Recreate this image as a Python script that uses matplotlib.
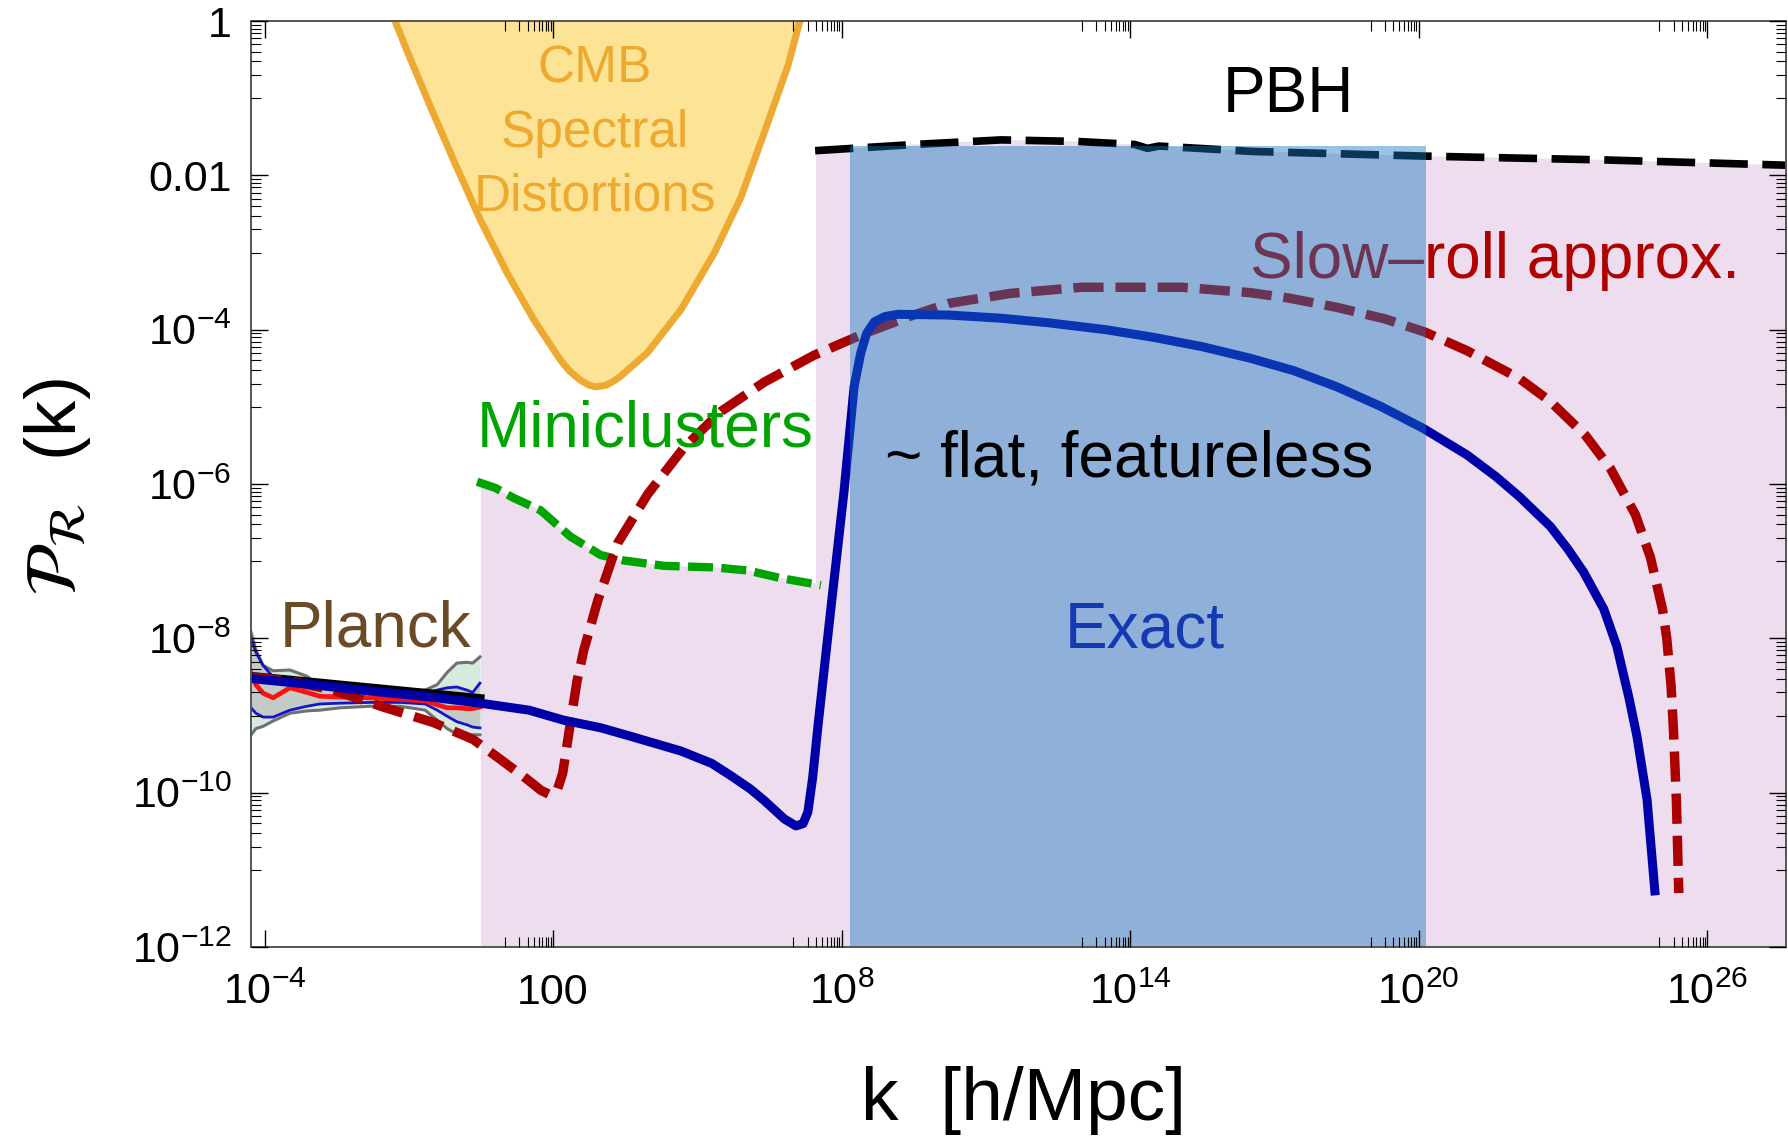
import numpy as np
import matplotlib
matplotlib.use('Agg')
import matplotlib.pyplot as plt
from matplotlib.ticker import FixedLocator, NullFormatter

plt.rcParams['font.family'] = ['Liberation Sans', 'DejaVu Sans']
plt.rcParams['mathtext.fontset'] = 'custom'
plt.rcParams['mathtext.rm'] = 'Liberation Sans'
plt.rcParams['mathtext.it'] = 'Liberation Sans:italic'
plt.rcParams['mathtext.bf'] = 'Liberation Sans:bold'

######### Data (log10 k, log10 P) #########

# exact power spectrum
exact_k = [-4.28, -3.0, -2.0, -0.55, 0.49, 1.5, 2.22, 3.0, 3.62, 4.66, 5.30, 5.70, 6.10,
           6.39, 6.81, 7.05, 7.20, 7.30, 7.40, 7.51, 7.78, 8.05, 8.26, 8.40, 8.52, 8.68,
           8.90, 9.18, 10.22, 11.3, 12.3, 13.5, 14.5, 15.5, 16.5, 17.4, 18.3, 19.2, 20.1,
           21.0, 21.6, 22.09, 22.74, 23.1, 23.43, 23.85, 24.12, 24.37, 24.54, 24.75, 24.92]
exact_p = [-8.52, -8.60, -8.67, -8.76, -8.84, -8.93, -9.06, -9.16, -9.27, -9.46, -9.62,
           -9.78, -9.95, -10.10, -10.34, -10.43, -10.40, -10.25, -9.80, -9.13, -7.60,
           -6.10, -4.74, -4.30, -4.05, -3.90, -3.83, -3.80, -3.81, -3.85, -3.91, -4.00,
           -4.10, -4.22, -4.37, -4.53, -4.74, -4.99, -5.28, -5.62, -5.90, -6.16, -6.55,
           -6.84, -7.14, -7.62, -8.10, -8.76, -9.27, -10.09, -11.33]

# slow-roll approximation
sr_k = [-4.28, -3.5, -2.57, -1.53, -0.49, 0.34, 0.91, 1.47, 1.75, 1.92, 2.08, 2.20, 2.36,
        2.50, 2.64, 2.93, 3.34, 3.97, 4.72, 5.49, 6.39, 7.43, 8.47, 9.45, 10.22, 11.5,
        12.99, 15.07, 16.50, 17.3, 18.30, 19.3, 20.13, 21.0, 22.09, 22.74, 23.47, 23.99,
        24.51, 24.82, 25.07, 25.16, 25.25, 25.30, 25.36, 25.41]
sr_p = [-8.50, -8.55, -8.67, -8.89, -9.09, -9.31, -9.57, -9.83, -9.97, -10.02, -9.98,
        -9.75, -9.10, -8.55, -8.15, -7.51, -6.77, -6.13, -5.53, -5.06, -4.68, -4.33,
        -4.05, -3.82, -3.66, -3.53, -3.45, -3.45, -3.52, -3.59, -3.71, -3.86, -4.03,
        -4.27, -4.63, -4.93, -5.37, -5.80, -6.40, -6.95, -7.62, -8.00, -8.62, -9.20,
        -10.10, -11.30]

# miniclusters bound
mini_k = [0.42, 0.80, 1.18, 1.74, 2.36, 2.99, 3.47, 4.31, 5.35, 6.05, 6.74, 7.57]
mini_p = [-5.97, -6.05, -6.18, -6.34, -6.68, -6.92, -6.99, -7.06, -7.08, -7.12, -7.22, -7.31]

# PBH bound
pbh_k = [7.45, 9.50, 11.32, 12.89, 14.10, 14.36, 14.60, 16.55, 20.11, 23.88, 27.74]
pbh_p = [-1.68, -1.60, -1.54, -1.56, -1.60, -1.65, -1.62, -1.69, -1.75, -1.80, -1.87]

# CMB spectral distortions bound
cmb_k = [-1.40, -1.28, -1.04, -0.55, -0.07, 0.49, 1.05, 1.60, 2.15, 2.35, 2.56, 2.75, 2.89,
         3.10, 3.25, 3.39, 3.96, 4.66, 5.35, 5.91, 6.39, 6.88, 7.12, 7.22]
cmb_p = [0.18, -0.01, -0.38, -1.11, -1.80, -2.58, -3.27, -3.87, -4.39, -4.54, -4.65, -4.72,
         -4.74, -4.72, -4.67, -4.61, -4.30, -3.74, -3.01, -2.28, -1.45, -0.59, -0.03, 0.15]

# Planck measurements
planck_k = [-4.28, -4.18, -4.03, -3.82, -3.47, -3.12, -2.85, -2.43, -1.81, -1.18, -0.66,
            -0.41, -0.20, 0.00, 0.21, 0.33, 0.48]
gray_hi = [-7.92, -8.15, -8.35, -8.42, -8.41, -8.49, -8.62, -8.67, -8.70, -8.71, -8.67,
           -8.60, -8.44, -8.32, -8.31, -8.32, -8.24]
gray_lo = [-9.25, -9.17, -9.14, -9.07, -8.97, -8.94, -8.93, -8.90, -8.88, -8.88, -8.93,
           -9.06, -9.17, -9.24, -9.25, -9.25, -9.25]
blue_hi = [-8.00, -8.18, -8.35, -8.50, -8.54, -8.58, -8.63, -8.67, -8.71, -8.72, -8.71,
           -8.67, -8.64, -8.63, -8.67, -8.70, -8.58]
blue_lo = [-8.90, -8.97, -9.02, -9.02, -8.93, -8.88, -8.85, -8.84, -8.83, -8.83, -8.85,
           -8.93, -9.01, -9.08, -9.12, -9.15, -9.16]
red_c = [-8.45, -8.60, -8.71, -8.77, -8.64, -8.70, -8.75, -8.76, -8.77, -8.79, -8.81,
         -8.86, -8.90, -8.90, -8.91, -8.91, -8.89]
powerlaw_k = [-4.28, 0.52]
powerlaw_p = [-8.47, -8.76]

# regions
pink_start = 0.50
pink_col = 7.47
exact_band = [8.18, 20.16]
exact_top = -1.62

xticks = [-4, 2, 8, 14, 20, 26]
xticklabels = ['$10^{-4}$', '100', '$10^{8}$', '$10^{14}$', '$10^{20}$', '$10^{26}$']
yticks = [0, -2, -4, -6, -8, -10, -12]
yticklabels = ['1', '0.01', '$10^{-4}$', '$10^{-6}$', '$10^{-8}$', '$10^{-10}$', '$10^{-12}$']


def L(a):
    return 10.0 ** np.asarray(a, dtype=float)


######### Plot #########

fig = plt.figure(figsize=(17.88, 11.38), dpi=100)
ax = fig.add_axes([0.1404, 0.1678, 0.8585, 0.8137])
ax.set_xscale('log')
ax.set_yscale('log')
ax.set_xlim(10 ** -4.28, 10 ** 27.64)
ax.set_ylim(1e-12, 1)

# pink excluded region: below miniclusters, then below PBH
pk = [pink_start, pink_start] + mini_k[1:-1] + [pink_col, pink_col] + pbh_k[1:] + [pbh_k[-1]]
pp = [-12.5, -5.99] + mini_p[1:-1] + [-7.29, pbh_p[0]] + pbh_p[1:] + [-12.5]
ax.fill(L(pk), L(pp), color='#EDDDEE', lw=0, zorder=1)

# CMB spectral distortions
ax.fill(L(cmb_k), L(cmb_p), facecolor='#FDE395', edgecolor='#EDA931', lw=5, zorder=2)

# Planck band
ax.fill_between(L(planck_k), L(gray_lo), L(gray_hi), color='#D6EADD', lw=0, zorder=2)
ax.fill_between(L(planck_k), L(blue_lo), L(blue_hi), color='#C4CAC6', lw=0, zorder=2)
ax.plot(L(planck_k), L(gray_hi), color='#707070', lw=2.2, zorder=3)
ax.plot(L(planck_k), L(gray_lo), color='#707070', lw=2.2, zorder=3)
ax.plot(L(planck_k), L(blue_hi), color='#1414C8', lw=2.0, zorder=3)
ax.plot(L(planck_k), L(blue_lo), color='#1414C8', lw=2.0, zorder=3)
ax.plot(L(planck_k), L(red_c), color='#FF1010', lw=3.4, zorder=3)
ax.plot(L(powerlaw_k), L(powerlaw_p), color='black', lw=4.0, zorder=3)

# bounds
ax.plot(L(mini_k), L(mini_p), color='#00A400', lw=6, dashes=(3.0, 1.0), zorder=3)
ax.plot(L(pbh_k), L(pbh_p), color='black', lw=5.5, dashes=(5.0, 1.9), zorder=3)

# spectra
ax.plot(L(sr_k), L(sr_p), color='#AA0000', lw=6.8, dashes=(3.2, 1.26), zorder=4)
ax.plot(L(exact_k), L(exact_p), color='#0000A8', lw=6.5, solid_capstyle='butt',
        solid_joinstyle='round', zorder=4)

ax.text(L(21.59), L(-3.33), 'Slow\u2013roll approx.', color='#B00000', fontsize=46,
        ha='center', va='baseline', zorder=4)
ax.text(L(14.31), L(-8.12), 'Exact', color='#1208A6', fontsize=46, ha='center',
        va='baseline', zorder=4)

# exact region overlay (semi-transparent)
ax.fill([L(exact_band[0]), L(exact_band[1]), L(exact_band[1]), L(exact_band[0])],
        [1e-13, 1e-13, L(exact_top), L(exact_top)], color='#1778C0', alpha=0.443,
        lw=0, zorder=5)

# labels
ax.text(L(2.87), L(-0.79), 'CMB', color='#EEA92F', fontsize=37, ha='center', va='baseline', zorder=6)
ax.text(L(2.87), L(-1.63), 'Spectral', color='#EEA92F', fontsize=37, ha='center', va='baseline', zorder=6)
ax.text(L(2.87), L(-2.45), 'Distortions', color='#EEA92F', fontsize=37, ha='center', va='baseline', zorder=6)
ax.text(L(17.29), L(-1.18), 'PBH', color='black', fontsize=46, ha='center', va='baseline', zorder=6)
ax.text(L(3.91), L(-5.51), 'Miniclusters', color='#00A400', fontsize=46, ha='center', va='baseline', zorder=6)
ax.text(L(8.90), L(-5.90), '~ flat, featureless', color='black', fontsize=46, ha='left', va='baseline', zorder=6)
ax.text(L(-1.70), L(-8.11), 'Planck', color='#6B4A26', fontsize=46, ha='center', va='baseline', zorder=6)

# axes, ticks
ax.xaxis.set_major_locator(FixedLocator(L(xticks)))
ax.set_xticklabels(xticklabels)
ax.xaxis.set_minor_locator(FixedLocator([10.0 ** (m - 1) * j for m in xticks[1:] for j in range(1, 10)]))
ax.xaxis.set_minor_formatter(NullFormatter())
ax.yaxis.set_major_locator(FixedLocator(L(yticks)))
ax.set_yticklabels(yticklabels)
ax.yaxis.set_minor_locator(FixedLocator([10.0 ** m * j / 10 for m in yticks[:-1] for j in range(1, 10)]))
ax.yaxis.set_minor_formatter(NullFormatter())

ax.tick_params(which='both', direction='in', top=True, right=True, color='black')
ax.tick_params(which='major', length=12, width=1.0, labelsize=31)
ax.tick_params(which='minor', length=7, width=0.8)
ax.tick_params(axis='y', which='major', pad=14)
ax.tick_params(axis='x', which='major', pad=41)
for lab in ax.get_xticklabels():
    lab.set_va('baseline')

for sp in ax.spines.values():
    sp.set_color('#555555')
    sp.set_linewidth(1.4)
    sp.set_zorder(20)
ax.xaxis.set_zorder(20)
ax.yaxis.set_zorder(20)

ax.set_xlabel('k  [h/Mpc]', fontsize=54)
ax.xaxis.set_label_coords(0.503, -0.1285)
ax.set_ylabel(r'$\mathcal{P}_{\mathcal{R}}$  (k)', fontsize=52, math_fontfamily='stix')
ax.yaxis.set_label_coords(-0.103, 0.497)

fig.savefig('out.png', dpi=100)
